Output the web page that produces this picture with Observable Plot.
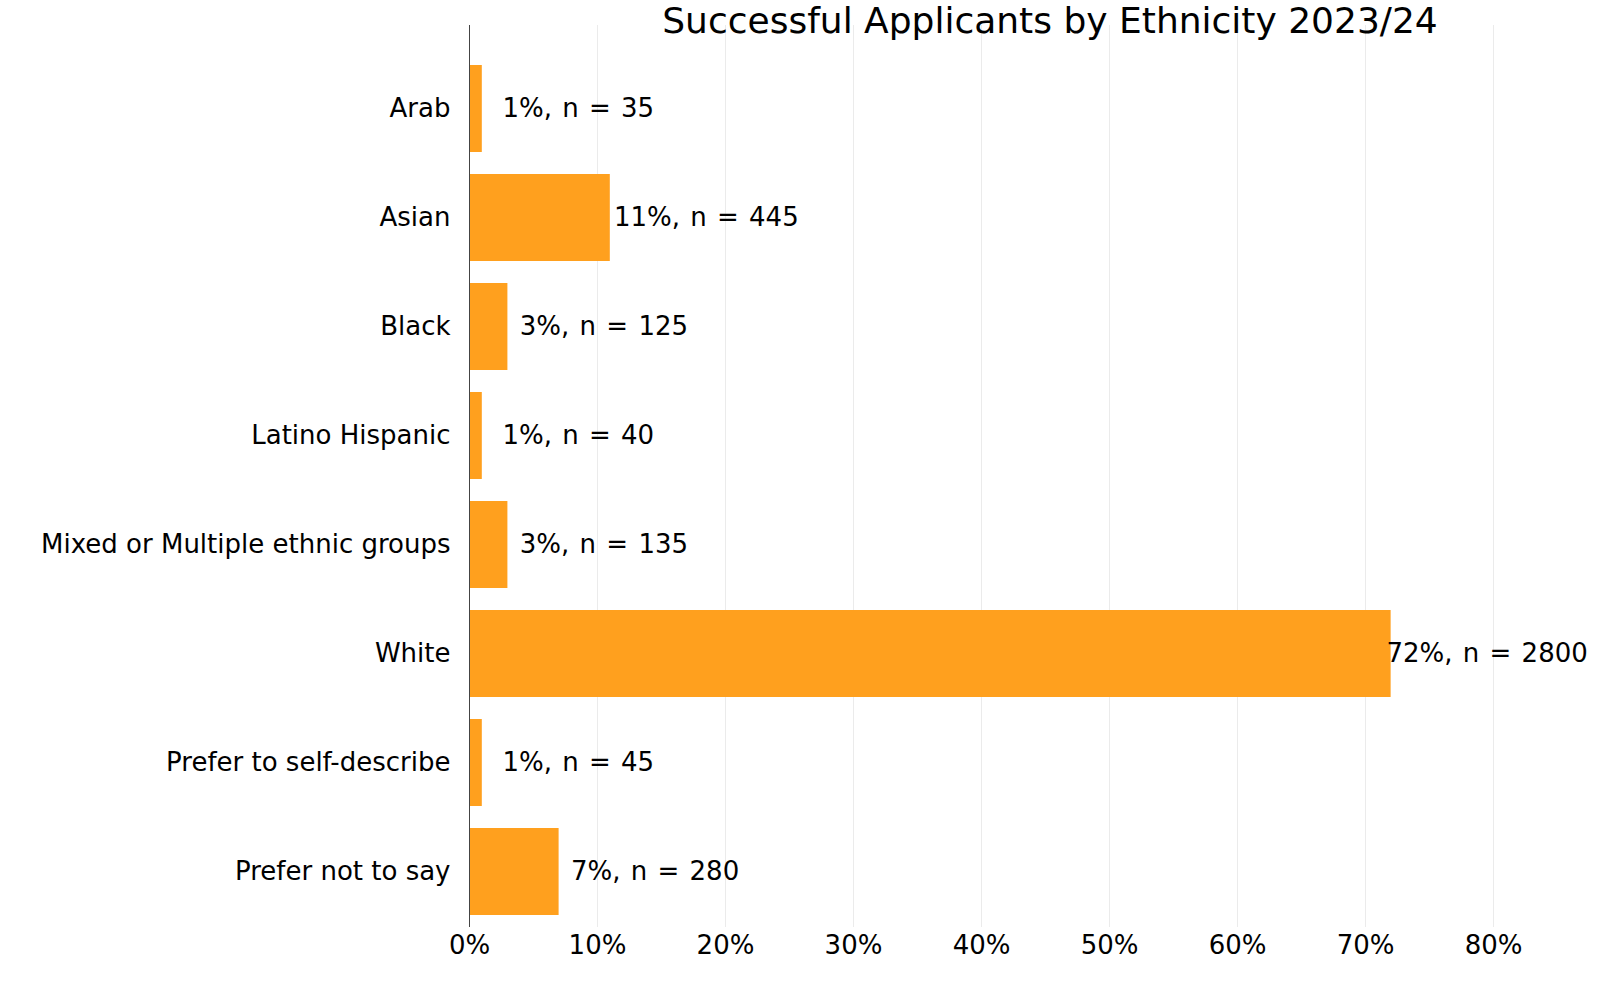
<!DOCTYPE html>
<html>
<head>
<meta charset="utf-8">
<script src="https://cdn.jsdelivr.net/npm/d3@7"></script>
<script src="https://cdn.jsdelivr.net/npm/@observablehq/plot@0.6"></script>
<style>
  html, body { margin: 0; padding: 0; background: white; overflow: hidden; }
  #wrap { position: relative; width: 1598px; height: 998px; }
  #title {
    position: absolute; top: 0; left: 1050px; transform: translateX(-50%);
    white-space: nowrap; font-family: "DejaVu Sans"; font-size: 36px; line-height: normal;
    color: black; z-index: 2;
  }
  #chart { position: absolute; top: 0; left: 0; }
  .vlabel text { word-spacing: 2px; }
</style>
</head>
<body>
<div id="wrap">
  <div id="title">Successful Applicants by Ethnicity 2023/24</div>
  <div id="chart"></div>
</div>
<script>
const categories = ["Arab", "Asian", "Black", "Latino Hispanic", "Mixed or Multiple ethnic groups", "White", "Prefer to self-describe", "Prefer not to say"];
const percents = [1, 11, 3, 1, 3, 72, 1, 7];
const counts = [35, 445, 125, 40, 135, 2800, 45, 280];
const xTicks = [0, 10, 20, 30, 40, 50, 60, 70, 80];

const data = categories.map((c, i) => ({cat: c, pct: percents[i], n: counts[i]}));

const chart = Plot.plot({
  width: 1598,
  height: 998,
  marginLeft: 469,
  marginRight: 0,
  marginTop: 25,
  marginBottom: 71,
  style: {fontFamily: "DejaVu Sans", fontSize: "26px", color: "black", background: "white"},
  x: {domain: [0, 88.2], label: null},
  y: {domain: categories, range: [53, 927], paddingInner: 0.2, paddingOuter: 0.1, label: null},
  marks: [
    Plot.gridX(xTicks, {stroke: "#ebebeb", strokeOpacity: 1, strokeWidth: 1}),
    Plot.barX(data, {x: "pct", y: "cat", fill: "#ffa01e"}),
    Plot.ruleX([0], {stroke: "#444", strokeWidth: 1}),
    Plot.text(data, {x: d => d.pct + 7.5, y: "cat", text: d => `${d.pct}%, n = ${d.n}`, textAnchor: "middle", fontSize: 26, fill: "black", className: "vlabel"}),
    Plot.axisX({ticks: xTicks, tickFormat: d => d + "%", tickSize: 0, tickPadding: 8.5, fontSize: 26, label: null}),
    Plot.axisY({tickSize: 0, tickPadding: 19, fontSize: 26, label: null})
  ]
});
document.getElementById("chart").appendChild(chart);
</script>
</body>
</html>
